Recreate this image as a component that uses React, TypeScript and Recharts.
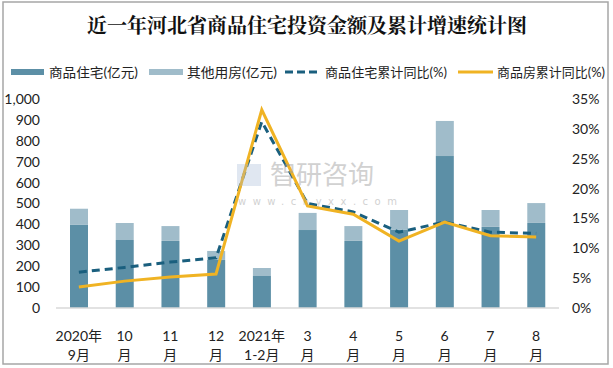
import React from "react";
import { ComposedChart, Bar, Line, XAxis, YAxis } from "recharts";

const categories = ["2020年|9月", "10|月", "11|月", "12|月", "2021年|1-2月", "3|月", "4|月", "5|月", "6|月", "7|月", "8|月"];
const residential = [400, 325, 321, 230, 153, 373, 321, 376, 727, 388, 407];
const other = [75, 82, 71, 43, 38, 82, 71, 93, 168, 81, 95];
const residentialYoY = [6.0, 6.8, 7.7, 8.4, 31.2, 17.5, 16.1, 12.7, 14.4, 12.7, 12.5];
const totalYoY = [3.5, 4.5, 5.2, 5.7, 33.2, 17.1, 15.7, 11.2, 14.4, 12.1, 11.9];
const leftTicks = [0, 100, 200, 300, 400, 500, 600, 700, 800, 900, 1000];
const rightTicks = [0, 5, 10, 15, 20, 25, 30, 35];

const data = categories.map((c, i) => ({
  name: c,
  residential: residential[i],
  other: other[i],
  resYoY: residentialYoY[i],
  totYoY: totalYoY[i],
}));

const FONT = "Lato, 'Noto Sans CJK SC', sans-serif";
const C_DARK = "#5C8FA6";
const C_LIGHT = "#A0BCCA";
const C_DASH = "#1A5F7E";
const C_ORANGE = "#F0B323";

const XTick = (props: any) => {
  const { x, y, payload } = props;
  const [a, b] = String(payload.value).split("|");
  return (
    <g>
      <text x={x} y={y + 25} textAnchor="middle" fontSize={14} fill="#222" fontFamily={FONT}>{a}</text>
      <text x={x} y={y + 44} textAnchor="middle" fontSize={14} fill="#222" fontFamily={FONT}>{b}</text>
    </g>
  );
};

const legendItems = [
  { label: "商品住宅(亿元)", type: "rect", color: C_DARK, x: 11, w: 33, tx: 49, tw: 89 },
  { label: "其他用房(亿元)", type: "rect", color: C_LIGHT, x: 149, w: 34, tx: 187, tw: 90 },
  { label: "商品住宅累计同比(%)", type: "dash", color: C_DASH, x: 285, w: 32, tx: 325, tw: 122 },
  { label: "商品房累计同比(%)", type: "line", color: C_ORANGE, x: 458, w: 35, tx: 497, tw: 108 },
];

export default function App() {
  return (
    <div style={{ position: "fixed", left: 0, top: 0, width: 613, height: 368, background: "#fff" }}>
      <ComposedChart width={613} height={368} data={data} margin={{ top: 99, right: 0, left: 0, bottom: 0 }}>
        <XAxis
          dataKey="name"
          xAxisId={0}
          height={60}
          tickLine={false}
          axisLine={{ stroke: "#D9D9D9", strokeWidth: 1.5 }}
          tick={<XTick />}
          interval={0}
        />
        <YAxis
          yAxisId="left"
          orientation="left"
          width={56}
          domain={[0, 1000]}
          ticks={leftTicks}
          interval={0}
          tickFormatter={(v: number) => v.toLocaleString("en-US")}
          axisLine={false}
          tickLine={false}
          tickSize={0}
          tickMargin={16}
          tick={{ fontSize: 14, fill: "#222", fontFamily: FONT }}
        />
        <YAxis
          yAxisId="right"
          orientation="right"
          width={54}
          domain={[0, 35]}
          ticks={rightTicks}
          interval={0}
          tickFormatter={(v: number) => `${v}%`}
          axisLine={false}
          tickLine={false}
          tickSize={0}
          tickMargin={13}
          tick={{ fontSize: 14, fill: "#222", fontFamily: FONT, textAnchor: "start" }}
        />
        <Bar yAxisId="left" dataKey="residential" stackId="a" fill={C_DARK} barSize={18} isAnimationActive={false} />
        <Bar yAxisId="left" dataKey="other" stackId="a" fill={C_LIGHT} barSize={18} isAnimationActive={false} />
        <Line yAxisId="right" dataKey="resYoY" stroke={C_DASH} strokeWidth={3} strokeDasharray="8 5" dot={false} isAnimationActive={false} />
        <Line yAxisId="right" dataKey="totYoY" stroke={C_ORANGE} strokeWidth={3} dot={false} isAnimationActive={false} />
      </ComposedChart>
      <svg width={613} height={368} style={{ position: "absolute", left: 0, top: 0, pointerEvents: "none" }}>
        <rect x={3} y={2} width={605} height={362} fill="none" stroke="#A6A6A6" strokeWidth={1.5} />
        <text x={307} y={33} textAnchor="middle" fontSize={20} fontWeight="bold" fill="#111" fontFamily="'Noto Serif CJK SC', 'Noto Sans CJK SC', serif">
          近一年河北省商品住宅投资金额及累计增速统计图
        </text>
        {legendItems.map((it) => (
          <g key={it.label}>
            {it.type === "rect" && <rect x={it.x} y={69} width={it.w} height={6} fill={it.color} />}
            {it.type === "dash" && (
              <line x1={it.x} y1={72} x2={it.x + it.w} y2={72} stroke={it.color} strokeWidth={3} strokeDasharray="8 4" />
            )}
            {it.type === "line" && <line x1={it.x} y1={72} x2={it.x + it.w} y2={72} stroke={it.color} strokeWidth={3} />}
            <text x={it.tx} y={77} fontSize={13} fill="#222" fontFamily={FONT} textLength={it.tw} lengthAdjust="spacingAndGlyphs">{it.label}</text>
          </g>
        ))}
        <g opacity={0.45}>
          <text x={270} y={184} fontSize={26} fill="#9a9a9a" fontFamily="'Noto Sans CJK SC', sans-serif">智研咨询</text>
          <text x={238} y={205} fontSize={10} fill="#9a9a9a" letterSpacing={6.5} fontFamily="'DejaVu Sans', sans-serif">www.chyxx.com</text>
          <rect x={237} y={164} width={24} height={22} fill="#9fb7d6" opacity={0.7} />
        </g>
      </svg>
    </div>
  );
}
